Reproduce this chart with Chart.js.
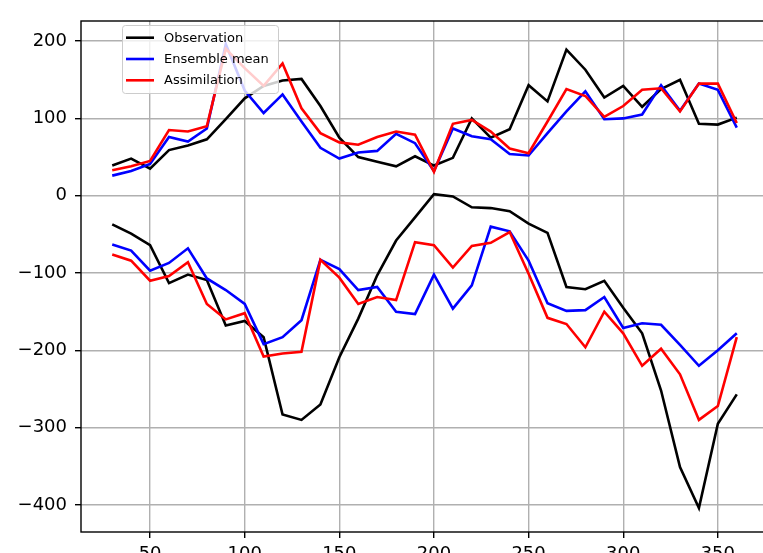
<!DOCTYPE html>
<html>
<head>
<meta charset="utf-8">
<script src="https://cdn.jsdelivr.net/npm/chart.js@4/dist/chart.umd.min.js"></script>
<style>
  html, body { margin: 0; padding: 0; overflow: hidden; background: #ffffff; }
  canvas { display: block; }
</style>
</head>
<body>
<canvas id="chart" width="780" height="553" style="width:780px;height:553px"></canvas>
<script>
// Sampling positions along the x axis
const days = [30, 40, 50, 60, 70, 80, 90, 100, 110, 120, 130, 140, 150, 160, 170, 180, 190,
              200, 210, 220, 230, 240, 250, 260, 270, 280, 290, 300, 310, 320, 330, 340, 350, 360];

// Upper branch
const obsUpper   = [39, 48, 35, 59, 65, 73, 99, 126, 142, 149, 151, 116, 75, 50, 44, 38, 51,
                    39, 49, 100, 75, 86, 143, 122, 189, 163, 127, 142, 115, 138, 150, 93, 92, 101];
const ensUpper   = [26, 32, 41, 76, 70, 87, 196, 136, 107, 131, 96, 62, 48, 56, 58, 80, 68,
                    32, 87, 77, 73, 54, 52, 81, 109, 135, 99, 100, 105, 143, 110, 145, 137, 88];
const assimUpper = [33, 38, 45, 85, 83, 90, 190, 165, 142, 171, 113, 81, 69, 66, 76, 83, 79,
                    31, 93, 98, 83, 61, 55, 96, 138, 129, 102, 116, 137, 139, 109, 145, 145, 94];

// Lower branch
const obsLower   = [-37, -49, -64, -113, -102, -109, -168, -162, -183, -283, -290, -270, -209, -159, -103, -58, -28,
                    2, -1, -15, -16, -20, -36, -48, -118, -121, -110, -145, -178, -252, -351, -404, -295, -257];
const ensLower   = [-63, -71, -97, -87, -68, -107, -122, -140, -192, -183, -161, -83, -95, -122, -118, -150, -153,
                    -102, -146, -116, -40, -46, -84, -139, -149, -148, -131, -171, -165, -167, -193, -220, -200, -178];
const assimLower = [-76, -84, -110, -104, -86, -140, -160, -152, -208, -204, -202, -83, -106, -140, -131, -135, -60,
                    -64, -93, -65, -61, -47, -101, -158, -166, -196, -150, -178, -220, -198, -231, -290, -272, -183];

// Axis tick labels
const xTicks = [50, 100, 150, 200, 250, 300, 350];
const yTicks = [-400, -300, -200, -100, 0, 100, 200];

const FONT = '"DejaVu Sans", sans-serif';
const LINE_W = 2.6;

function series(label, color, values, order) {
  return {
    label: label,
    data: values.map((v, i) => ({ x: days[i], y: v })),
    borderColor: color,
    backgroundColor: color,
    borderWidth: LINE_W,
    pointRadius: 0,
    pointHoverRadius: 0,
    fill: false,
    tension: 0,
    order: order
  };
}

const datasets = [
  series('Observation', '#000000', obsUpper, 6),
  series('Ensemble mean', '#0000ff', ensUpper, 5),
  series('Assimilation', '#ff0000', assimUpper, 4),
  series('Observation', '#000000', obsLower, 3),
  series('Ensemble mean', '#0000ff', ensLower, 2),
  series('Assimilation', '#ff0000', assimLower, 1)
];

// Axes frame drawn on top of the lines
const framePlugin = {
  id: 'frame',
  afterDatasetsDraw(chart) {
    const { ctx, chartArea: a } = chart;
    ctx.save();
    ctx.strokeStyle = '#000000';
    ctx.lineWidth = 1.4;
    ctx.strokeRect(a.left, a.top, a.right - a.left, a.bottom - a.top);
    ctx.restore();
  }
};

// Legend box placed inside the plot, upper left
const insideLegend = {
  id: 'insideLegend',
  afterDraw(chart) {
    const ctx = chart.ctx;
    const entries = chart.data.datasets.slice(0, 3);
    const box = { x: 122.5, y: 25.5, w: 156, h: 68, r: 3 };
    ctx.save();
    ctx.beginPath();
    ctx.moveTo(box.x + box.r, box.y);
    ctx.arcTo(box.x + box.w, box.y, box.x + box.w, box.y + box.h, box.r);
    ctx.arcTo(box.x + box.w, box.y + box.h, box.x, box.y + box.h, box.r);
    ctx.arcTo(box.x, box.y + box.h, box.x, box.y, box.r);
    ctx.arcTo(box.x, box.y, box.x + box.w, box.y, box.r);
    ctx.closePath();
    ctx.fillStyle = 'rgba(255,255,255,0.8)';
    ctx.fill();
    ctx.strokeStyle = '#cccccc';
    ctx.lineWidth = 1;
    ctx.stroke();

    ctx.font = '13px ' + FONT;
    ctx.textBaseline = 'middle';
    ctx.textAlign = 'left';
    entries.forEach((ds, i) => {
      const y = 37.7 + i * 21.3;
      ctx.beginPath();
      ctx.moveTo(126, y);
      ctx.lineTo(154, y);
      ctx.strokeStyle = ds.borderColor;
      ctx.lineWidth = LINE_W;
      ctx.stroke();
      ctx.fillStyle = '#000000';
      ctx.fillText(ds.label, 164, y + 0.5);
    });
    ctx.restore();
  }
};

new Chart(document.getElementById('chart'), {
  type: 'line',
  data: { datasets: datasets },
  options: {
    responsive: false,
    animation: false,
    devicePixelRatio: 1,
    layout: { padding: { top: 21, right: 12, left: 0, bottom: 0 } },
    plugins: {
      legend: { display: false },
      tooltip: { enabled: false }
    },
    scales: {
      x: {
        type: 'linear',
        min: 13.5,
        max: 376.5,
        afterBuildTicks(scale) { scale.ticks = xTicks.map(v => ({ value: v })); },
        afterFit(scale) { scale.height = 21; },
        border: { display: false },
        grid: {
          color: '#b0b0b0',
          lineWidth: 1.4,
          drawTicks: true,
          tickLength: 6,
          tickColor: '#000000',
          tickWidth: 1.4
        },
        ticks: {
          autoSkip: false,
          maxRotation: 0,
          padding: 6,
          color: '#000000',
          font: { family: FONT, size: 18 },
          callback: v => String(v)
        }
      },
      y: {
        type: 'linear',
        min: -435,
        max: 226,
        afterBuildTicks(scale) { scale.ticks = yTicks.map(v => ({ value: v })); },
        afterFit(scale) { scale.width = 81; },
        border: { display: false },
        grid: {
          color: '#b0b0b0',
          lineWidth: 1.4,
          drawTicks: true,
          tickLength: 6,
          tickColor: '#000000',
          tickWidth: 1.4
        },
        ticks: {
          autoSkip: false,
          padding: 8,
          color: '#000000',
          font: { family: FONT, size: 18 },
          callback: v => (v < 0 ? '\u2212' + Math.abs(v) : String(v))
        }
      }
    }
  },
  plugins: [framePlugin, insideLegend]
});
</script>
</body>
</html>
